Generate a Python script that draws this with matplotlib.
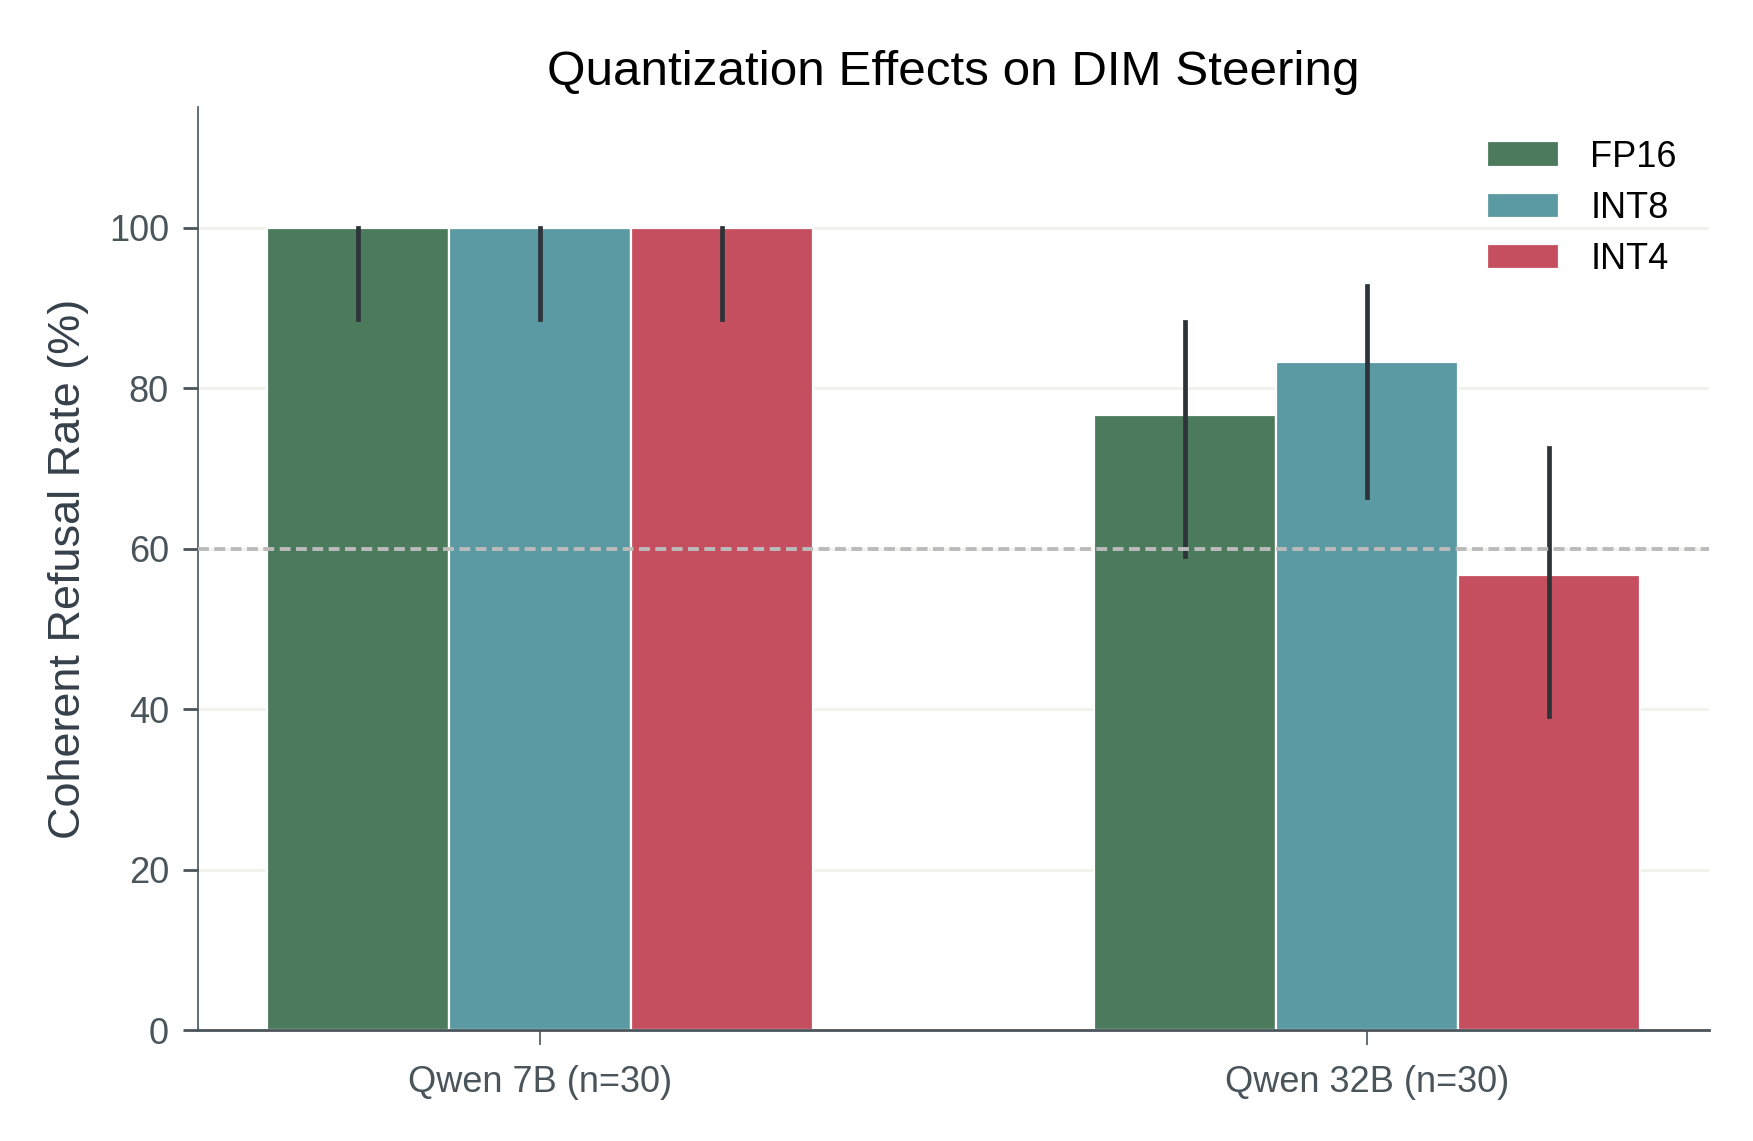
import numpy as np
import matplotlib
matplotlib.use("Agg")
import matplotlib.pyplot as plt

# values
models = ["Qwen 7B (n=30)", "Qwen 32B (n=30)"]
precisions = ["FP16", "INT8", "INT4"]
refusal_rate = {
    "FP16": [100.0, 76.7],
    "INT8": [100.0, 83.3],
    "INT4": [100.0, 56.7],
}
ci_low = {
    "FP16": [88.6, 59.1],
    "INT8": [88.6, 66.4],
    "INT4": [88.6, 39.2],
}
ci_high = {
    "FP16": [100.0, 88.2],
    "INT8": [100.0, 92.7],
    "INT4": [100.0, 72.6],
}
threshold = 60

colors = {"FP16": "#4b7a5c", "INT8": "#5b9aa3", "INT4": "#c54f5e"}
axis_grey = "#4a545b"

plt.rcParams["font.family"] = ["Liberation Sans", "DejaVu Sans"]

fig = plt.figure(figsize=(8.765, 5.705), dpi=200)
ax = fig.add_axes([0.113, 0.097, 0.862, 0.809])

x = np.arange(len(models))
width = 0.22

for i, prec in enumerate(precisions):
    vals = np.array(refusal_rate[prec])
    lo = vals - np.array(ci_low[prec])
    hi = np.array(ci_high[prec]) - vals
    ax.bar(
        x + (i - 1) * width,
        vals,
        width,
        color=colors[prec],
        edgecolor="white",
        linewidth=0.8,
        label=prec,
        zorder=2,
    )
    eb = ax.errorbar(
        x + (i - 1) * width,
        vals,
        yerr=[lo, hi],
        fmt="none",
        ecolor="#2d3338",
        elinewidth=1.7,
        capsize=0,
        zorder=3,
    )
    for coll in eb[2]:
        coll.set_capstyle("projecting")

ax.axhline(threshold, color="#bbbbbb", linewidth=1.4, linestyle=(0, (2.8, 1.4)), zorder=4)

ax.set_ylim(0, 115)
ax.set_yticks([0, 20, 40, 60, 80, 100])
ax.set_xticks(x)
ax.set_xticklabels(models)

ax.yaxis.grid(True, color="#f2f2ec", linewidth=1.0, zorder=0)
ax.set_axisbelow(True)

ax.spines["top"].set_visible(False)
ax.spines["right"].set_visible(False)
ax.spines["left"].set_color(axis_grey)
ax.spines["left"].set_linewidth(0.6)
ax.spines["bottom"].set_color(axis_grey)
ax.spines["bottom"].set_linewidth(1.0)

ax.tick_params(axis="y", length=5.5, width=1.0, color=axis_grey, labelcolor=axis_grey,
               labelsize=13, pad=5)
ax.tick_params(axis="x", length=5.5, width=0.6, color=axis_grey, labelcolor=axis_grey,
               labelsize=13, pad=7)

ax.set_ylabel("Coherent Refusal Rate (%)", fontsize=16.2, color="#36404a", labelpad=7)
ax.set_title("Quantization Effects on DIM Steering", fontsize=17.8, pad=8)

ax.legend(frameon=False, fontsize=13, loc="upper right", handlelength=2.0,
          handletextpad=0.85, labelspacing=0.45)

fig.savefig("out.png", dpi=200)
